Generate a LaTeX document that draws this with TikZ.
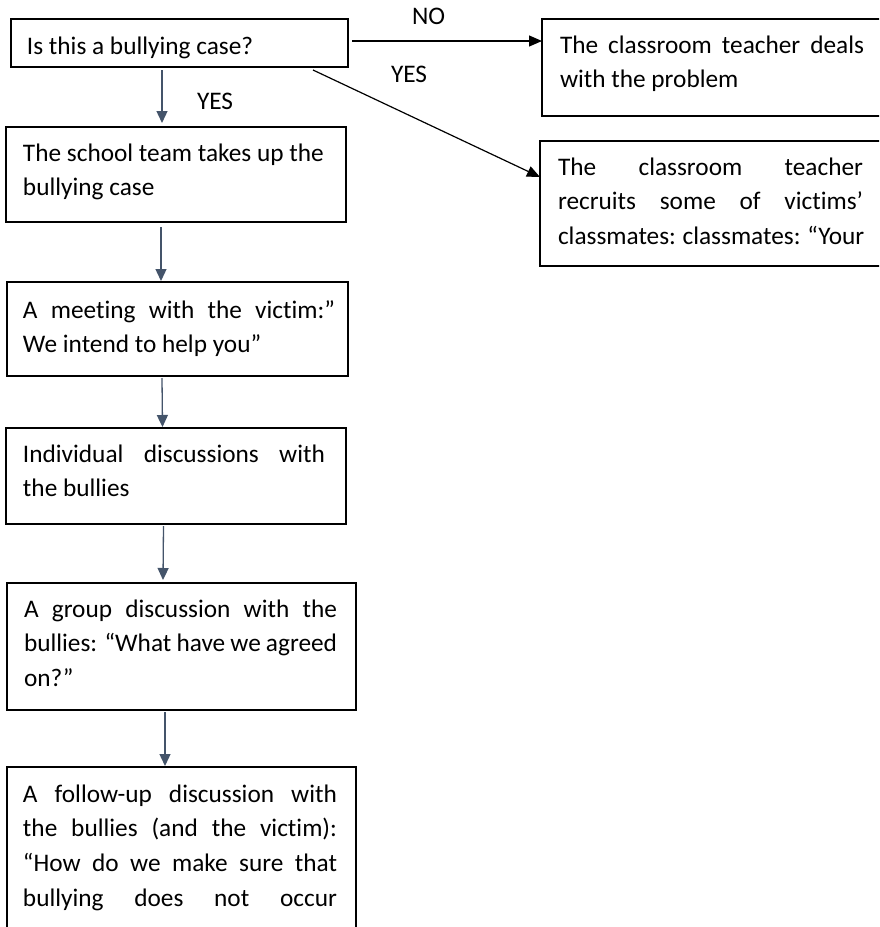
\documentclass[tikz,border=0pt]{standalone}
\usepackage{fontspec}
\setmainfont[Ligatures=NoCommon]{Carlito}
\usetikzlibrary{arrows.meta}
\newcommand{\jl}[1]{\makebox[\linewidth][s]{#1}\\}
\newcommand{\jle}[1]{\makebox[\linewidth][s]{#1}}
\definecolor{slate}{HTML}{44546A}
\begin{document}
\begin{tikzpicture}[x=1pt,y=-1pt,
  box/.style={draw=black, line width=1.3pt, rectangle, inner sep=0pt, outer sep=0pt, anchor=north west},
  txt/.style={inner sep=0pt, outer sep=0pt, anchor=base west, font=\fontsize{25.3}{34.8}\selectfont},
  varrow/.style={draw=slate, line width=1.3pt, -{Triangle[length=12pt,width=11pt]}},
  darrow/.style={draw=black, line width=1.2pt, -{Triangle[length=13pt,width=11pt]}}]
\useasboundingbox (0,0) rectangle (879,927);
\clip (0,0) rectangle (879,927);
\fill[white] (0,0) rectangle (879,927);
% boxes
\node[box, minimum width=337pt, minimum height=48pt] (q) at (11,19) {};
\node[box, minimum width=340pt, minimum height=95pt] (s) at (6,127) {};
\node[box, minimum width=341pt, minimum height=94pt] (m) at (7,282) {};
\node[box, minimum width=340pt, minimum height=96pt] (i) at (6,428) {};
\node[box, minimum width=349pt, minimum height=127pt] (g) at (7,583) {};
\node[box, minimum width=349pt, minimum height=220pt] (f) at (7,767) {};
\node[box, minimum width=400pt, minimum height=97pt] (a) at (542,19) {};
\node[box, minimum width=400pt, minimum height=125pt] (r) at (540,141) {};
% texts
\node[txt] (tq) at (27,54) {Is this a bullying case?};
\node[txt] (ts) at (23,161) {\parbox[t]{320pt}{The school team takes up the\\bullying case}};
\node[txt] (tm) at (23,318) {\parbox[t]{312pt}{\jl{A meeting with the victim:”}We intend to help you”}};
\node[txt] (ti) at (23,462) {\parbox[t]{302pt}{\jl{Individual discussions with}the bullies}};
\node[txt] (tg) at (24,617) {\parbox[t]{313pt}{\jl{A group discussion with the}\jl{bullies: “What have we agreed}on?”}};
\node[txt] (tf) at (23,802) {\parbox[t]{314pt}{\jl{A follow-up discussion with}\jl{the bullies (and the victim):}\jl{“How do we make sure that}\jle{bullying does not occur}}};
\node[txt] (ta) at (560,53) {\parbox[t]{304pt}{\jl{The classroom teacher deals}with the problem}};
\node[txt] (tr) at (558,175) {\parbox[t]{305pt}{\jl{The classroom teacher}\jl{recruits some of victims’}\jle{classmates: classmates: “Your}}};
% labels
\node[txt] (yes1) at (197,109) {YES};
\node[txt] (no) at (412,24) {NO};
\node[txt] (yes2) at (391,82) {YES};
% connectors
\draw[varrow] ([xshift=-17.5pt,yshift=-3pt]q.south) -- ([xshift=-17.5pt,yshift=4pt]q.south |- s.north);
\draw[varrow] ([xshift=-15pt,yshift=-5pt]s.south) -- ([xshift=-16.5pt,yshift=1pt]m.north);
\draw[varrow] ([xshift=-15.5pt,yshift=-2pt]m.south) -- ([xshift=-13.5pt,yshift=1pt]i.north);
\draw[varrow] ([xshift=-12.5pt,yshift=-2pt]i.south) -- ([xshift=-18.5pt,yshift=3pt]g.north);
\draw[varrow] ([xshift=-16.5pt,yshift=-2pt]g.south) -- ([xshift=-16.5pt,yshift=1pt]f.north);
\draw[darrow] ([xshift=4pt,yshift=2pt]q.east) -- ([yshift=26.5pt]a.west);
\draw[darrow] ([xshift=302pt,yshift=-3pt]q.south west) -- ([yshift=26.5pt]r.west);
\end{tikzpicture}
\end{document}
